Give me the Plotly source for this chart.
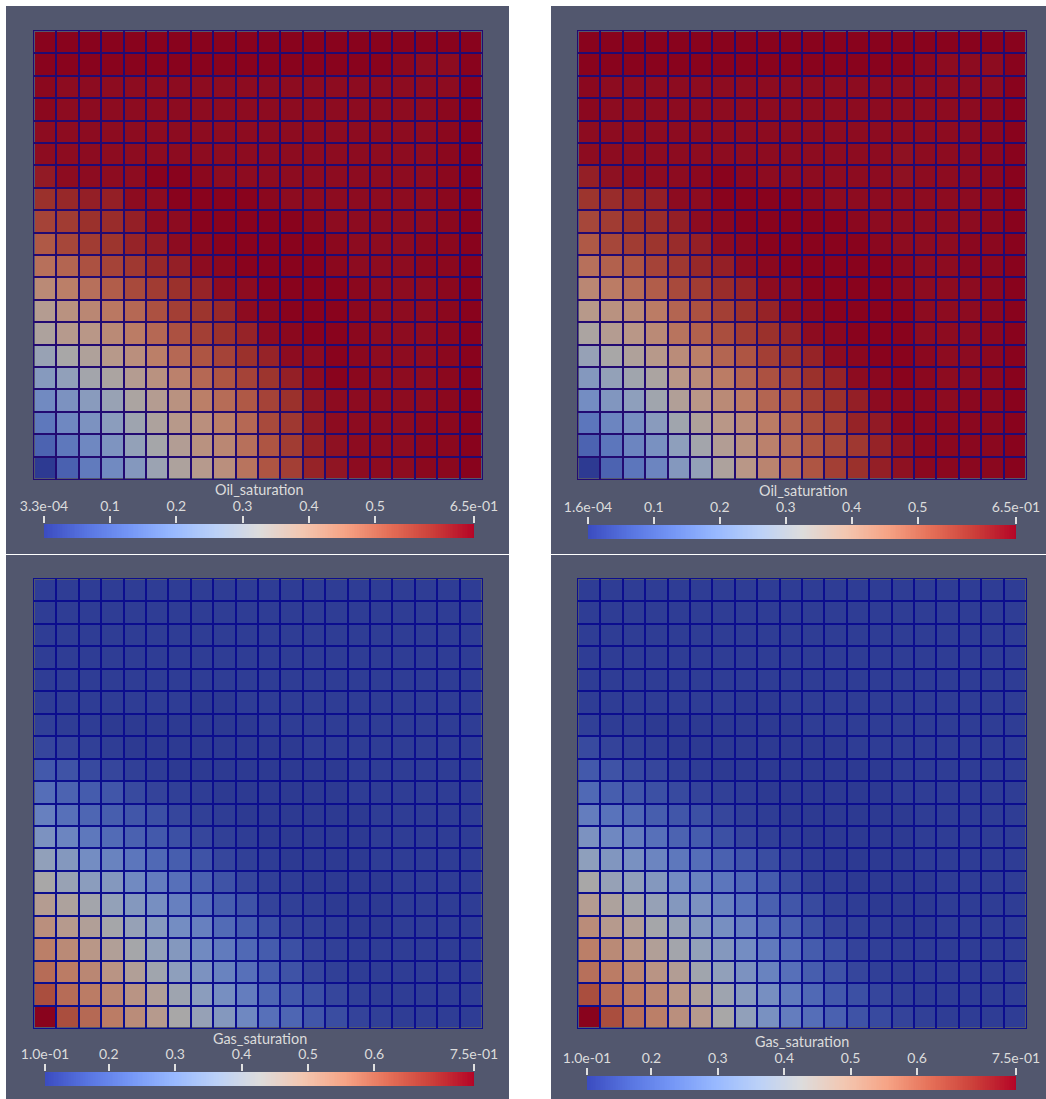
import numpy as np
import plotly.graph_objects as go

W, H = 1046, 1099

# Cell values as percent of each panel's colour-bar range; first row is the top row of the grid.
oil_left_pct = [
 [100,100,100,100,100,100,100,100,100,100,100,100,100,100,100,100,100,100,100,100],
 [100,100,100,100,100,100,100,100,100,100,100,100,100,100,100,100,99,98,98,100],
 [99,98,98,98,98,98,98,98,98,98,98,98,98,98,98,98,98,98,98,100],
 [99,98,98,98,98,98,98,98,98,98,98,98,98,98,98,98,98,98,99,100],
 [98,98,98,98,98,98,98,98,98,98,98,98,98,98,98,98,98,98,99,100],
 [98,98,98,98,98,98,98,98,98,98,98,98,98,98,98,98,98,98,99,100],
 [95,98,98,98,98,100,100,99,98,98,98,98,98,98,98,98,98,98,99,100],
 [90,92,94,94,98,98,100,100,100,100,99,98,98,98,98,98,98,98,99,100],
 [85,87,90,91,94,98,98,100,100,100,100,100,99,98,98,98,98,98,99,100],
 [79,84,87,89,93,95,98,99,100,100,100,100,100,99,98,98,98,99,99,100],
 [73,76,81,85,88,92,94,98,99,100,100,100,100,99,98,98,98,99,99,100],
 [65,69,73,78,83,87,90,93,98,98,100,100,100,100,99,98,98,98,99,100],
 [57,62,66,71,75,81,86,89,92,98,99,100,100,100,99,98,98,98,99,100],
 [53,58,60,65,70,75,81,86,90,93,98,99,100,100,99,98,98,98,99,100],
 [44,50,54,59,63,69,75,80,85,90,93,98,98,100,99,98,98,98,99,100],
 [37,41,48,52,57,62,68,75,80,85,89,94,98,100,99,98,98,98,99,100],
 [29,33,38,44,52,57,62,69,74,79,85,90,96,98,98,98,98,98,99,100],
 [22,28,33,39,46,53,59,63,69,75,83,88,95,98,98,98,98,99,99,100],
 [14,22,28,34,42,49,56,62,66,73,80,87,94,97,98,98,98,99,99,100],
 [0,13,23,29,36,45,53,58,63,72,80,86,93,96,98,98,98,99,99,100],
]
oil_right_pct = [
 [100,100,100,100,100,100,100,100,100,100,100,100,100,100,100,100,100,100,100,100],
 [100,100,100,100,100,100,100,100,100,100,100,100,100,100,100,99,98,98,98,100],
 [99,98,98,98,98,98,98,98,98,98,98,98,98,98,98,98,98,98,98,100],
 [99,98,98,98,98,98,98,98,98,98,98,98,98,98,98,98,98,98,99,100],
 [98,98,98,98,98,98,98,98,98,98,98,98,98,98,98,98,98,98,99,100],
 [98,98,98,98,98,98,98,98,98,98,98,98,98,98,97,98,98,98,99,100],
 [94,97,98,98,98,99,100,99,98,98,98,98,98,98,97,98,98,98,99,100],
 [89,91,93,94,98,98,100,100,100,100,99,98,98,98,98,98,98,98,99,100],
 [84,87,90,91,94,98,99,100,100,100,100,100,99,98,98,98,98,98,99,100],
 [79,84,87,89,91,94,98,99,100,100,100,100,100,99,98,98,98,99,99,100],
 [73,77,80,85,88,92,94,98,99,100,100,100,100,100,99,98,98,99,99,100],
 [66,70,74,78,83,87,91,93,98,98,100,100,100,100,99,98,98,98,99,100],
 [59,62,65,70,76,81,86,90,93,98,99,100,100,100,100,98,98,98,99,100],
 [52,57,60,65,72,77,82,87,90,93,98,99,100,100,100,98,98,98,99,100],
 [43,50,54,59,64,69,76,80,86,90,93,98,99,100,100,99,98,98,99,100],
 [36,42,47,52,60,64,70,76,81,85,90,93,98,99,100,99,98,98,99,100],
 [30,35,40,47,55,60,65,70,76,80,86,90,94,98,99,99,98,99,99,100],
 [21,27,31,38,47,54,60,64,70,76,82,86,93,95,99,99,99,99,99,100],
 [14,21,27,32,40,48,56,62,68,74,80,84,88,93,97,99,99,99,99,100],
 [0,14,21,27,36,42,53,60,67,74,80,86,90,94,97,99,99,99,99,100],
]
gas_left_pct = [
 [1,1,1,1,1,1,1,1,1,1,1,1,1,1,1,1,1,1,1,1],
 [1,1,1,1,1,1,1,1,1,1,1,1,1,1,1,1,1,1,1,1],
 [1,1,1,1,1,1,1,1,1,1,1,1,1,1,1,1,1,1,1,1],
 [1,1,1,1,1,1,1,1,1,1,1,1,1,1,1,1,1,1,1,1],
 [1,1,1,1,1,1,1,1,1,1,1,1,1,1,1,1,1,1,1,1],
 [1,1,1,1,1,1,1,0,0,1,1,1,1,1,1,1,1,1,1,1],
 [2,1,1,0,0,0,0,0,0,0,1,1,1,1,1,1,1,1,1,1],
 [4,3,2,1,0,0,0,0,0,0,0,0,1,1,1,1,1,1,1,1],
 [10,8,5,4,2,1,0,0,0,0,0,0,0,0,1,1,1,1,1,1],
 [18,14,11,9,5,3,2,1,0,0,0,0,0,0,1,1,1,1,1,1],
 [25,19,15,12,9,7,4,2,1,0,0,0,0,0,0,1,1,1,1,1],
 [33,27,22,17,13,10,7,4,2,1,0,0,0,0,0,1,1,1,1,1],
 [41,36,30,26,21,16,12,8,4,2,1,0,0,0,0,1,1,1,1,1],
 [50,44,39,36,29,24,19,13,8,4,2,1,0,0,0,0,1,1,1,1],
 [57,53,48,42,36,31,25,18,12,8,3,2,1,0,0,0,1,1,1,1],
 [63,58,55,49,43,37,30,25,17,11,7,3,2,1,0,0,1,1,1,1],
 [69,65,60,55,49,42,36,29,23,16,11,7,3,2,1,1,1,1,1,1],
 [74,70,66,61,55,47,40,33,26,19,12,8,4,2,1,1,1,1,1,1],
 [82,74,70,66,61,55,46,39,31,24,15,10,7,4,2,1,1,1,1,1],
 [100,82,75,70,64,58,50,43,36,28,19,15,9,6,3,2,1,1,1,1],
]
gas_right_pct = [
 [1,1,1,1,1,1,1,1,1,1,1,1,1,1,1,1,1,1,1,1],
 [1,1,1,1,1,1,1,1,1,1,1,1,1,1,1,1,1,1,1,1],
 [1,1,1,1,1,1,1,1,1,1,1,1,1,1,1,1,1,1,1,1],
 [1,1,1,1,1,1,1,1,1,1,1,1,1,1,1,1,1,1,1,1],
 [1,1,1,1,1,1,1,1,1,1,1,1,1,1,1,1,1,1,1,1],
 [1,1,1,1,1,1,1,0,0,1,1,1,1,1,1,1,1,1,1,1],
 [2,1,1,0,0,0,0,0,0,0,1,1,1,1,1,1,1,1,1,1],
 [5,3,2,1,0,0,0,0,0,0,0,0,1,1,1,1,1,1,1,1],
 [10,8,5,4,2,1,0,0,0,0,0,0,0,0,1,1,1,1,1,1],
 [16,12,9,7,5,3,2,1,0,0,0,0,0,0,1,1,1,1,1,1],
 [24,20,16,12,9,7,4,2,1,0,0,0,0,0,0,1,1,1,1,1],
 [33,28,24,19,14,11,7,4,2,1,0,0,0,0,0,1,1,1,1,1],
 [40,35,32,27,22,18,13,9,6,3,1,0,0,0,0,1,1,1,1,1],
 [50,43,41,36,30,26,21,16,11,6,2,1,0,0,0,0,1,1,1,1],
 [57,53,48,43,36,33,26,20,13,9,5,2,1,0,0,0,1,1,1,1],
 [64,58,55,49,44,36,31,25,18,13,7,3,2,1,0,0,1,1,1,1],
 [69,65,60,55,48,42,36,30,23,18,11,7,3,2,1,1,1,1,1,1],
 [73,70,66,61,56,47,41,33,26,19,12,8,4,2,1,1,1,1,1,1],
 [82,74,70,66,60,54,46,38,31,23,16,10,7,4,2,1,1,1,1,1],
 [100,82,73,69,63,58,50,41,32,24,18,13,8,5,3,2,1,1,1,1],
]

titles = ["Oil_saturation", "Oil_saturation", "Gas_saturation", "Gas_saturation"]
range_min = [0.0005, 0.0003, 0.104, 0.103]
range_max = [0.649, 0.649, 0.75, 0.749]
tick_values = [
    [0.0005, 0.1, 0.2, 0.3, 0.4, 0.5, 0.649],
    [0.0003, 0.1, 0.2, 0.3, 0.4, 0.5, 0.649],
    [0.104, 0.2, 0.3, 0.4, 0.5, 0.6, 0.75],
    [0.103, 0.2, 0.3, 0.4, 0.5, 0.6, 0.749],
]
tick_labels = [
    ["3.3e-04", "0.1", "0.2", "0.3", "0.4", "0.5", "6.5e-01"],
    ["1.6e-04", "0.1", "0.2", "0.3", "0.4", "0.5", "6.5e-01"],
    ["1.0e-01", "0.2", "0.3", "0.4", "0.5", "0.6", "7.5e-01"],
    ["1.0e-01", "0.2", "0.3", "0.4", "0.5", "0.6", "7.5e-01"],
]
grids = [oil_left_pct, oil_right_pct, gas_left_pct, gas_right_pct]

# Pixel boxes (left, top, right, bottom) of each panel's parts
grid_boxes = [(34, 31, 482, 479), (578, 31, 1026, 479), (34, 579, 482, 1028), (578, 579, 1026, 1028)]
bar_boxes = [(44, 524, 474, 538), (588, 525, 1016, 539), (45, 1072, 474, 1086), (587, 1076, 1016, 1090)]
title_pos = [(259, 489), (804, 490), (260, 1038), (802, 1041)]
panel_boxes = [(6, 6, 509, 554), (551, 6, 1046, 554), (6, 555, 509, 1099), (551, 555, 1046, 1099)]
line_colors = ["#220a72", "#220a72", "#0c0e8e", "#0c0e8e"]

PANEL = "#52576e"
TEXT = "#dcdcdc"
FONT = "Lato"

stops = ["#3b4cc0", "#5875e1", "#7597f6", "#98b9ff", "#bbd1f8", "#dddcdc",
         "#f3c7b1", "#f6a385", "#e57058", "#cc403a", "#b40426"]
LIGHT = 0.76


def dim(c):
    r, g, b = (int(c[i:i + 2], 16) for i in (1, 3, 5))
    return f"rgb({r * LIGHT:.0f},{g * LIGHT:.0f},{b * LIGHT:.0f})"


bar_scale = [[i / 10, c] for i, c in enumerate(stops)]
cell_scale = [[i / 10, dim(c)] for i, c in enumerate(stops)]


def xdom(b):
    return [b[0] / W, b[2] / W]


def ydom(b):
    return [1 - b[3] / H, 1 - b[1] / H]


fig = go.Figure()
layout = {}
shapes = []
annots = []
for k in range(4):
    vmin, vmax = range_min[k], range_max[k]
    cells = vmin + np.array(grids[k], dtype=float) / 100 * (vmax - vmin)
    a, b = 2 * k + 1, 2 * k + 2
    xn = lambda n: "x" if n == 1 else f"x{n}"
    yn = lambda n: "y" if n == 1 else f"y{n}"
    xk = lambda n: "xaxis" if n == 1 else f"xaxis{n}"
    yk = lambda n: "yaxis" if n == 1 else f"yaxis{n}"

    fig.add_trace(go.Heatmap(z=cells.tolist(), zmin=vmin, zmax=vmax, colorscale=cell_scale,
                             showscale=False, xgap=2, ygap=2, xaxis=xn(a), yaxis=yn(a),
                             name=titles[k]))
    axis_common = dict(dtick=1, tick0=-0.5, showgrid=True, gridcolor=line_colors[k], gridwidth=2,
                       showticklabels=False, ticks="", zeroline=False, showline=True, mirror=True,
                       linecolor=line_colors[k], linewidth=1, automargin=False)
    layout[xk(a)] = dict(domain=xdom(grid_boxes[k]), range=[-0.5, 19.5], anchor=yn(a), **axis_common)
    layout[yk(a)] = dict(domain=ydom(grid_boxes[k]), range=[19.5, -0.5], anchor=xn(a), **axis_common)

    ramp = np.linspace(vmin, vmax, 256)
    fig.add_trace(go.Heatmap(z=[ramp.tolist()], x=ramp.tolist(), y=[0], zmin=vmin, zmax=vmax,
                             colorscale=bar_scale, showscale=False, xaxis=xn(b), yaxis=yn(b),
                             hoverinfo="skip"))
    layout[xk(b)] = dict(domain=xdom(bar_boxes[k]), range=[vmin, vmax], anchor=yn(b), side="top",
                         tickmode="array", tickvals=tick_values[k], ticktext=tick_labels[k],
                         ticks="outside", ticklen=7, tickwidth=1.5, tickcolor="#e0e0e0",
                         tickangle=0, ticklabelstandoff=-1, automargin=False,
                         tickfont=dict(family=FONT, size=14, color=TEXT),
                         showgrid=False, zeroline=False, showline=False)
    layout[yk(b)] = dict(domain=ydom(bar_boxes[k]), range=[-0.5, 0.5], anchor=xn(b), visible=False,
                         automargin=False)

    p = panel_boxes[k]
    shapes.append(dict(type="rect", xref="paper", yref="paper", x0=p[0] / W, x1=p[2] / W,
                       y0=1 - p[3] / H, y1=1 - p[1] / H, fillcolor=PANEL, line_width=0, layer="below"))
    annots.append(dict(xref="paper", yref="paper", x=title_pos[k][0] / W, y=1 - title_pos[k][1] / H,
                       text=titles[k], showarrow=False, xanchor="center", yanchor="middle",
                       font=dict(family=FONT, size=14.4, color=TEXT)))

fig.update_layout(width=W, height=H, margin=dict(l=0, r=0, t=0, b=0, pad=0), paper_bgcolor="white",
                  plot_bgcolor="rgba(0,0,0,0)", showlegend=False, shapes=shapes, annotations=annots,
                  **layout)
fig.write_html("out.html", config={"displayModeBar": False},
               post_script="document.body.style.margin='0';document.body.style.overflow='hidden';")
